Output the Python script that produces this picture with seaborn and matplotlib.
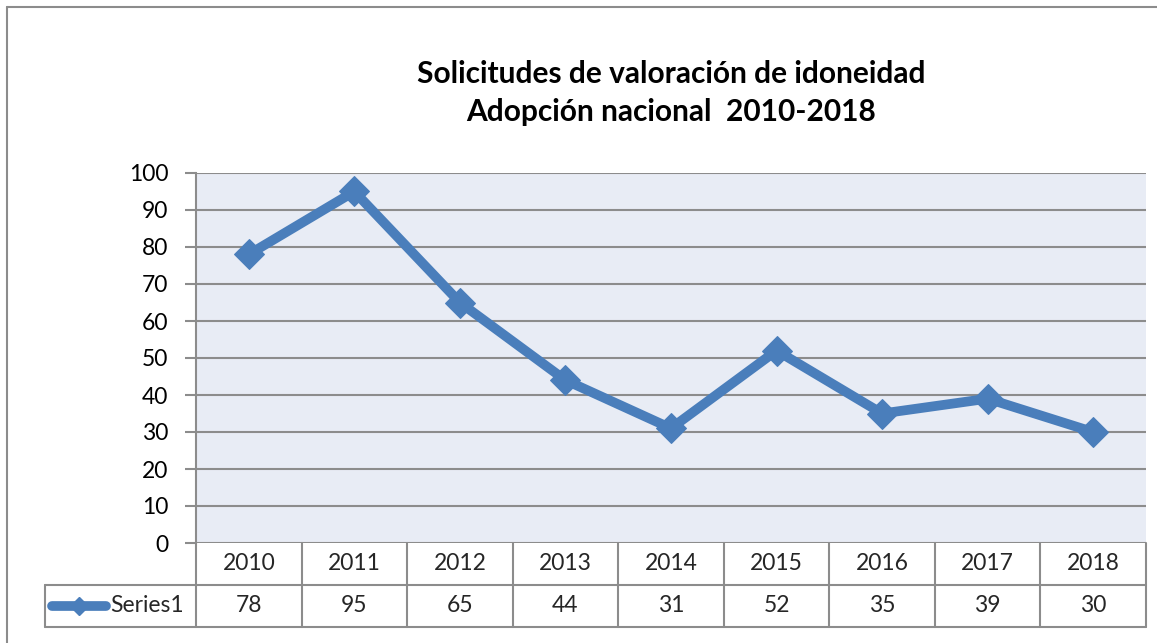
import numpy as np
import pandas as pd
import seaborn as sns
import matplotlib.pyplot as plt
from matplotlib.lines import Line2D

# datos del grafico
years = ['2010', '2011', '2012', '2013', '2014', '2015', '2016', '2017', '2018']
solicitudes = [78, 95, 65, 44, 31, 52, 35, 39, 30]
serie = 'Series1'
titulo = 'Solicitudes de valoración de idoneidad\nAdopción nacional  2010-2018'

W, H = 1157, 643
azul = '#4A7EBB'
gris = '#8C8C8C'

sns.set_theme(style='white')
plt.rcParams['font.family'] = ['Lato', 'DejaVu Sans']

def fx(x):
    return x / W

def fy(y):
    return 1 - y / H

fig = plt.figure(figsize=(W / 100, H / 100), dpi=100)

# area del grafico (pixeles)
L, R, T, B = 196, 1146, 173, 543
ax = fig.add_axes([fx(L), fy(B), fx(R) - fx(L), fy(T) - fy(B)])
ax.set_facecolor('#E8ECF5')

df = pd.DataFrame({'pos': np.arange(len(years)), 'valor': solicitudes})
sns.lineplot(data=df, x='pos', y='valor', ax=ax, color=azul, linewidth=7,
             marker='D', markersize=15, markeredgecolor=azul, zorder=3)

ax.set_xlim(-0.5, len(years) - 0.5)
ax.set_ylim(0, 100)
ax.set_yticks(range(0, 101, 10))
ax.set_xticks([])
ax.set_xlabel('')
ax.set_ylabel('')
ax.yaxis.grid(True, color=gris, linewidth=1.5)
ax.set_axisbelow(True)
for s in ['top', 'right', 'bottom']:
    ax.spines[s].set_visible(False)
ax.spines['left'].set_color(gris)
ax.spines['left'].set_linewidth(1.5)
ax.tick_params(axis='y', length=8, width=1.5, color=gris, labelsize=16.5,
               left=True, pad=12, labelcolor='black')

# titulo
fig.text(fx((L + R) / 2), fy(93), titulo, ha='center', va='center',
         fontsize=21.5, fontweight='bold', linespacing=1.45, color='black')

# tabla de datos
row1, row2, row3 = B, 585, 627
left_cell = 45
colw = (R - L) / len(years)
lc = dict(color=gris, linewidth=1.5, transform=fig.transFigure)
fig.add_artist(Line2D([fx(L), fx(R)], [fy(row2), fy(row2)], **lc))
fig.add_artist(Line2D([fx(left_cell), fx(L)], [fy(row2), fy(row2)], **lc))
fig.add_artist(Line2D([fx(left_cell), fx(R)], [fy(row3), fy(row3)], **lc))
fig.add_artist(Line2D([fx(left_cell), fx(left_cell)], [fy(row2), fy(row3)], **lc))
for i in range(len(years) + 1):
    x = L + i * colw
    fig.add_artist(Line2D([fx(x), fx(x)], [fy(row1), fy(row3)], **lc))
for i, (yr, v) in enumerate(zip(years, solicitudes)):
    xc = L + (i + 0.5) * colw
    fig.text(fx(xc), fy((row1 + row2) / 2), yr, ha='center', va='center', fontsize=16.5)
    fig.text(fx(xc), fy((row2 + row3) / 2), str(v), ha='center', va='center', fontsize=16.5)

# leyenda en la tabla
ym = fy((row2 + row3) / 2)
fig.add_artist(Line2D([fx(52), fx(106)], [ym, ym], color=azul, linewidth=7,
                      solid_capstyle='round', transform=fig.transFigure))
fig.add_artist(Line2D([fx(79)], [ym], color=azul, marker='D', markersize=9,
                      transform=fig.transFigure))
fig.text(fx(110), ym, serie, ha='left', va='center', fontsize=16.5)

# marco exterior
fig.add_artist(Line2D([fx(7), fx(W)], [fy(7), fy(7)], color=gris, linewidth=1.5,
                      transform=fig.transFigure))
fig.add_artist(Line2D([fx(7), fx(7)], [fy(7), 0], color=gris, linewidth=1.5,
                      transform=fig.transFigure))

fig.savefig('out.png', dpi=100)
